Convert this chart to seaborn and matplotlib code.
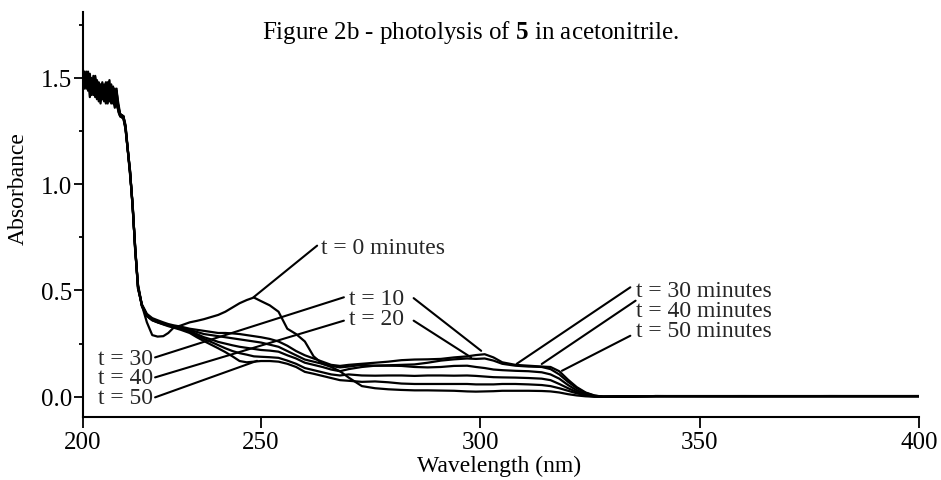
import numpy as np
import pandas as pd
import matplotlib
matplotlib.use("Agg")
import matplotlib.pyplot as plt
import seaborn as sns
from matplotlib.ticker import MultipleLocator, FormatStrFormatter

# shared wavelength grid (nm)
wavelength = (
    [200, 200.5, 201, 201.5, 202, 202.5, 203, 203.5, 204, 204.5, 205, 205.5,
     206, 206.5, 207, 207.5, 208, 208.5, 209, 209.5, 210, 210.5]
    + [211.4, 212, 213.3, 214, 214.7, 215.5, 216.6, 218, 219.5, 221, 222.6, 224, 225.5]
    + [227.5, 230, 232, 234, 236, 238, 240, 242, 244, 246, 248, 250, 252, 254,
       256, 258, 260, 262, 264, 266, 268]
    + [270, 273, 276, 279, 282, 285, 288, 291, 294, 297, 299, 301, 303, 305,
       308, 311, 314, 316, 318, 320, 322, 324, 326, 328]
    + [340, 360, 380, 400]
)

# absorbance, one list per photolysis time
abs_t0 = (
    [1.52, 1.48, 1.50, 1.44, 1.47, 1.42, 1.49, 1.45, 1.40, 1.46, 1.43, 1.48,
     1.41, 1.45, 1.38, 1.44, 1.47, 1.40, 1.36, 1.43, 1.38, 1.33]
    + [1.32, 1.27, 1.05, 0.90, 0.70, 0.52, 0.43, 0.35, 0.29, 0.283, 0.285, 0.30, 0.325]
    + [0.335, 0.35, 0.357, 0.365, 0.375, 0.385, 0.40, 0.42, 0.44, 0.455, 0.467,
       0.45, 0.43, 0.40, 0.32, 0.295, 0.26, 0.19, 0.155, 0.14, 0.12]
    + [0.09, 0.05, 0.04, 0.035, 0.032, 0.03, 0.03, 0.029, 0.028, 0.025, 0.024, 0.025,
       0.026, 0.028, 0.028, 0.028, 0.027, 0.025, 0.02, 0.012, 0.006, 0.002, 0.0, 0.0]
    + [0.003, 0.002, 0.003, 0.003]
)
abs_t10 = (
    [1.49, 1.53, 1.45, 1.50, 1.41, 1.48, 1.44, 1.51, 1.46, 1.39, 1.47, 1.42,
     1.46, 1.40, 1.45, 1.49, 1.39, 1.44, 1.41, 1.37, 1.35, 1.32]
    + [1.32, 1.26, 1.06, 0.89, 0.71, 0.51, 0.435, 0.39, 0.37, 0.36, 0.35, 0.342, 0.336]
    + [0.33, 0.32, 0.315, 0.31, 0.305, 0.30, 0.30, 0.298, 0.295, 0.29, 0.285,
       0.28, 0.272, 0.26, 0.24, 0.215, 0.195, 0.18, 0.165, 0.15, 0.145]
    + [0.15, 0.155, 0.16, 0.165, 0.172, 0.175, 0.176, 0.178, 0.185, 0.19, 0.196, 0.20,
       0.185, 0.162, 0.15, 0.146, 0.142, 0.14, 0.12, 0.08, 0.045, 0.02, 0.006, 0.0]
    + [0.003, 0.003, 0.002, 0.003]
)
abs_t20 = (
    [1.55, 1.46, 1.51, 1.47, 1.52, 1.43, 1.46, 1.41, 1.49, 1.44, 1.38, 1.45,
     1.47, 1.42, 1.48, 1.41, 1.43, 1.38, 1.45, 1.40, 1.34, 1.32]
    + [1.31, 1.27, 1.04, 0.91, 0.69, 0.53, 0.43, 0.385, 0.365, 0.355, 0.345, 0.338, 0.332]
    + [0.325, 0.315, 0.305, 0.295, 0.29, 0.285, 0.28, 0.275, 0.27, 0.265, 0.26,
       0.255, 0.245, 0.235, 0.215, 0.195, 0.175, 0.165, 0.155, 0.145, 0.138]
    + [0.142, 0.15, 0.146, 0.148, 0.15, 0.152, 0.16, 0.17, 0.176, 0.18, 0.178, 0.18,
       0.17, 0.155, 0.146, 0.142, 0.14, 0.13, 0.105, 0.07, 0.04, 0.018, 0.005, 0.0]
    + [0.003, 0.003, 0.003, 0.002]
)
abs_t30 = (
    [1.47, 1.51, 1.48, 1.53, 1.45, 1.50, 1.42, 1.47, 1.43, 1.48, 1.45, 1.40,
     1.44, 1.48, 1.42, 1.39, 1.45, 1.42, 1.38, 1.44, 1.36, 1.33]
    + [1.32, 1.28, 1.05, 0.90, 0.70, 0.52, 0.425, 0.38, 0.362, 0.352, 0.343, 0.336, 0.33]
    + [0.32, 0.31, 0.295, 0.28, 0.27, 0.258, 0.25, 0.242, 0.235, 0.23, 0.225,
       0.22, 0.217, 0.212, 0.195, 0.18, 0.16, 0.15, 0.14, 0.128, 0.12]
    + [0.13, 0.14, 0.146, 0.146, 0.145, 0.14, 0.138, 0.14, 0.145, 0.146, 0.14, 0.135,
       0.128, 0.125, 0.122, 0.12, 0.115, 0.105, 0.085, 0.055, 0.03, 0.012, 0.003, 0.0]
    + [0.002, 0.003, 0.003, 0.003]
)
abs_t40 = (
    [1.50, 1.45, 1.53, 1.46, 1.49, 1.44, 1.51, 1.43, 1.47, 1.42, 1.46, 1.43,
     1.39, 1.46, 1.40, 1.46, 1.41, 1.46, 1.42, 1.39, 1.37, 1.32]
    + [1.31, 1.26, 1.06, 0.89, 0.71, 0.52, 0.43, 0.38, 0.36, 0.35, 0.342, 0.335, 0.328]
    + [0.32, 0.305, 0.288, 0.272, 0.258, 0.243, 0.228, 0.215, 0.205, 0.198, 0.19,
       0.188, 0.186, 0.183, 0.17, 0.155, 0.135, 0.125, 0.115, 0.105, 0.10]
    + [0.105, 0.10, 0.099, 0.10, 0.10, 0.098, 0.10, 0.10, 0.099, 0.10, 0.098, 0.095,
       0.092, 0.091, 0.09, 0.088, 0.085, 0.078, 0.06, 0.04, 0.022, 0.01, 0.002, 0.0]
    + [0.003, 0.002, 0.003, 0.003]
)
abs_t50 = (
    [1.53, 1.49, 1.46, 1.51, 1.44, 1.47, 1.45, 1.48, 1.42, 1.45, 1.41, 1.47,
     1.43, 1.38, 1.46, 1.43, 1.38, 1.43, 1.40, 1.45, 1.35, 1.33]
    + [1.32, 1.27, 1.05, 0.90, 0.70, 0.51, 0.43, 0.38, 0.36, 0.35, 0.34, 0.332, 0.325]
    + [0.315, 0.30, 0.28, 0.262, 0.245, 0.228, 0.21, 0.19, 0.168, 0.162, 0.165,
       0.168, 0.168, 0.165, 0.155, 0.14, 0.117, 0.108, 0.098, 0.088, 0.078]
    + [0.075, 0.07, 0.072, 0.068, 0.062, 0.06, 0.06, 0.06, 0.06, 0.06, 0.058, 0.058,
       0.058, 0.06, 0.06, 0.058, 0.055, 0.05, 0.04, 0.028, 0.016, 0.006, 0.001, 0.0]
    + [0.003, 0.003, 0.003, 0.003]
)

times = [0, 10, 20, 30, 40, 50]
spectra = [abs_t0, abs_t10, abs_t20, abs_t30, abs_t40, abs_t50]

# long table for seaborn
frames = []
for t, a in zip(times, spectra):
    assert len(a) == len(wavelength)
    frames.append(pd.DataFrame({"wavelength": wavelength, "absorbance": a, "time": t}))
df = pd.concat(frames, ignore_index=True)

# the printed wavelength axis is not uniform: 200-250 is narrower than the rest
def fwd(x):
    x = np.asarray(x, float)
    return np.where(x < 250, (x - 250) * 178 / 50, (x - 250) * 219 / 50)

def inv(u):
    u = np.asarray(u, float)
    return np.where(u < 0, 250 + u * 50 / 178, 250 + u * 50 / 219)

sns.set_theme(style="ticks")
plt.rcParams["font.family"] = ["Liberation Serif", "DejaVu Serif"]
plt.rcParams["mathtext.fontset"] = "custom"
plt.rcParams["mathtext.rm"] = "Liberation Serif"
plt.rcParams["mathtext.bf"] = "Liberation Serif:bold"

fig = plt.figure(figsize=(9.41, 4.81), dpi=100)
ax = fig.add_axes([0.0879, 0.1316, 0.8887, 0.842])
ax.set_xscale("function", functions=(fwd, inv))

sns.lineplot(data=df, x="wavelength", y="absorbance", hue="time",
             palette=["black"] * 6, estimator=None, sort=False,
             linewidth=1.6, legend=False, ax=ax)

ax.set_xlim(200, 400)
ax.set_ylim(-0.094, 1.812)
ax.set_xticks([200, 250, 300, 350, 400])
ax.xaxis.set_minor_locator(plt.NullLocator())
ax.yaxis.set_major_locator(MultipleLocator(0.5))
ax.yaxis.set_minor_locator(MultipleLocator(0.25))
ax.yaxis.set_major_formatter(FormatStrFormatter("%.1f"))
ax.tick_params(axis="x", which="major", direction="out", length=8, width=1.3,
               pad=2, labelsize=18, colors="black")
ax.tick_params(axis="y", which="major", direction="out", length=6.5, width=1.3,
               pad=1, labelsize=18, colors="black")
ax.tick_params(axis="y", which="minor", direction="out", length=3, width=1.3, colors="black")
sns.despine(ax=ax)
for s in ["left", "bottom"]:
    ax.spines[s].set_linewidth(1.5)
    ax.spines[s].set_color("black")

ax.set_xlabel("Wavelength (nm)", fontsize=17, color="black")
ax.set_ylabel("Absorbance", fontsize=17, color="black")
ax.xaxis.set_label_coords(0.498, -0.093)
ax.yaxis.set_label_coords(-0.064, 0.565)

fig.text(0.5, 1 - 33 / 481, r"Figure 2b - photolysis of $\mathbf{5}$ in acetonitrile.",
         ha="center", va="center", fontsize=18, color="black")

# labels and their pointer lines
fs = 17
line_kw = dict(arrowstyle="-", lw=1.5, color="black", shrinkA=0, shrinkB=0)
ax.text(263.6, 0.704, "t = 0 minutes", ha="left", va="center", fontsize=fs)
ax.text(270.1, 0.464, "t = 10", ha="left", va="center", fontsize=fs)
ax.text(270.1, 0.366, "t = 20", ha="left", va="center", fontsize=fs)
ax.text(219.8, 0.182, "t = 30", ha="right", va="center", fontsize=fs)
ax.text(219.8, 0.091, "t = 40", ha="right", va="center", fontsize=fs)
ax.text(219.8, -0.003, "t = 50", ha="right", va="center", fontsize=fs)
ax.text(335.4, 0.499, "t = 30 minutes", ha="left", va="center", fontsize=fs)
ax.text(335.4, 0.405, "t = 40 minutes", ha="left", va="center", fontsize=fs)
ax.text(335.4, 0.310, "t = 50 minutes", ha="left", va="center", fontsize=fs)

pointers = [
    ((262.8, 0.711), (247.9, 0.468)),
    ((220.3, 0.185), (268.9, 0.468)),
    ((220.3, 0.091), (268.9, 0.358)),
    ((220.3, -0.003), (248.9, 0.169)),
    ((284.8, 0.464), (300.2, 0.216)),
    ((284.8, 0.358), (297.9, 0.185)),
    ((334.2, 0.515), (308.3, 0.155)),
    ((335.4, 0.452), (314.0, 0.154)),
    ((334.2, 0.287), (318.6, 0.122)),
]
for start, end in pointers:
    ax.annotate("", xy=end, xytext=start, arrowprops=line_kw)

fig.savefig("out.png", dpi=100, facecolor="white")
